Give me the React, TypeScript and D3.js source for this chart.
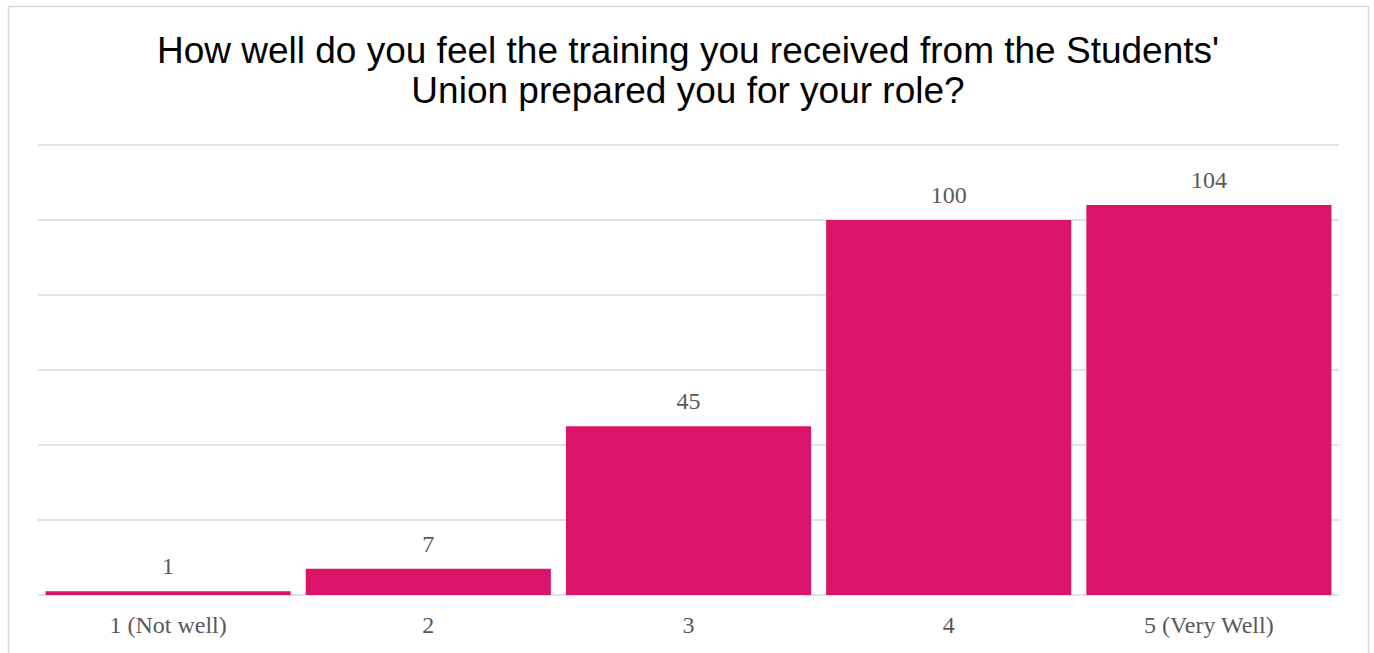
import React from "react";
import * as d3 from "d3";

const categories = ["1 (Not well)", "2", "3", "4", "5 (Very Well)"];
const values = [1, 7, 45, 100, 104];
const yTicks = [0, 20, 40, 60, 80, 100, 120];
const titleLines = [
  "How well do you feel the training you received from the Students'",
  "Union prepared you for your role?",
];

export default function App() {
  const W = 1374;
  const H = 653;
  const left = 38;
  const right = 1339;
  const top = 145;
  const bottom = 595;
  const x = d3
    .scaleBand<string>()
    .domain(categories)
    .range([left, right])
    .paddingInner(0.058)
    .paddingOuter(0.029);
  const y = d3.scaleLinear().domain([0, 120]).range([bottom, top]);
  const labelFont = "'Liberation Serif', 'DejaVu Serif', serif";
  return (
    <svg
      width={W}
      height={H}
      style={{ position: "absolute", left: 0, top: 0, background: "#fff" }}
    >
      <rect x={8.5} y={6.5} width={1360} height={680} fill="#fff" stroke="#d9d9d9" strokeWidth={1.5} />
      {titleLines.map((t, i) => (
        <text
          key={i}
          x={688}
          y={63 + i * 40}
          textAnchor="middle"
          fontFamily="'Liberation Sans', Arial, sans-serif"
          fontSize={37}
          fill="#000"
        >
          {t}
        </text>
      ))}
      {yTicks.map((t) => (
        <line
          key={t}
          x1={left}
          x2={right}
          y1={y(t)}
          y2={y(t)}
          stroke="#d9d9d9"
          strokeWidth={1.5}
        />
      ))}
      {categories.map((c, i) => (
        <g key={c}>
          <rect
            x={x(c)}
            y={y(values[i])}
            width={x.bandwidth()}
            height={bottom - y(values[i])}
            fill="#DB146A"
          />
          <text
            x={(x(c) as number) + x.bandwidth() / 2}
            y={y(values[i]) - 17}
            textAnchor="middle"
            fontFamily={labelFont}
            fontSize={24}
            fill="#595959"
          >
            {values[i]}
          </text>
          <text
            x={(x(c) as number) + x.bandwidth() / 2}
            y={633}
            textAnchor="middle"
            fontFamily={labelFont}
            fontSize={24}
            fill="#595959"
          >
            {c}
          </text>
        </g>
      ))}
    </svg>
  );
}
